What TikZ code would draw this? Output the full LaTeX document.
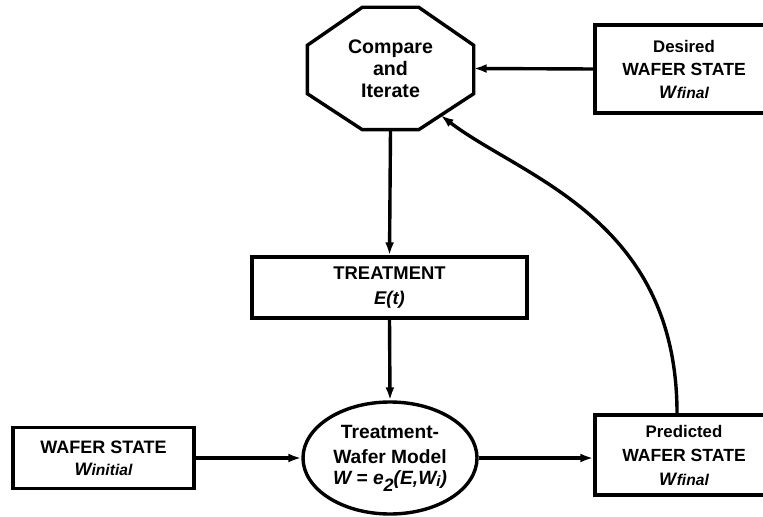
\documentclass[tikz,border=0pt]{standalone}
\usepackage{fontspec}
\setmainfont{Liberation Sans}
\usetikzlibrary{shapes.geometric,arrows.meta,calc}
\begin{document}
\begin{tikzpicture}[x=0.5pt,y=-0.5pt,
  line width=1.7pt,
  font=\bfseries,
  arr/.style={-{Latex[length=6.5pt,width=4.5pt]}},
  box/.style={draw,rectangle,inner sep=0pt,align=center}]
\clip (0,0) rectangle (763,517);

% compare-and-iterate octagon: an invisible frame plus its outline
\node[rectangle,minimum width=81.5pt,minimum height=59.5pt,inner sep=0pt,align=center,
      font=\bfseries\fontsize{9.8}{11}\selectfont] (cmp) at (390.5,68.5)
  {Compare\\and\\Iterate};
\coordinate (o1) at ($(cmp.north west)+(55,0)$);
\coordinate (o2) at ($(cmp.north east)+(-55,0)$);
\coordinate (o3) at ($(cmp.north east)+(0,38)$);
\coordinate (o4) at ($(cmp.south east)+(0,-36)$);
\coordinate (o5) at ($(cmp.south east)+(-55,0)$);
\coordinate (o6) at ($(cmp.south west)+(55,0)$);
\coordinate (o7) at ($(cmp.south west)+(0,-36)$);
\coordinate (o8) at ($(cmp.north west)+(0,38)$);
\draw[line join=miter] (o1)--(o2)--(o3)--(o4)--(o5)--(o6)--(o7)--(o8)--cycle;
\coordinate (cmpin) at ($(o5)!0.4!(o4)$);

% desired state
\node[box,minimum width=89pt,minimum height=44pt] (des) at (684,69)
  {{\fontsize{8.4}{10}\selectfont Desired}\\[-0.5pt]
   {\fontsize{8.8}{10}\selectfont WAFER STATE}\\[-0.5pt]
   {\fontsize{9}{10}\selectfont\itshape W\kern0.3pt{\fontsize{7.8}{9}\selectfont final}}};

% treatment
\node[box,minimum width=137.5pt,minimum height=30.5pt,
      font=\bfseries\fontsize{9.2}{12.5}\selectfont] (trt) at (389.5,287.5)
  {TREATMENT\\\itshape E(t)};

% treatment-wafer model
\node[draw,ellipse,minimum width=87pt,minimum height=56pt,inner sep=0pt,align=center,
      font=\bfseries\fontsize{9.6}{10.5}\selectfont] (mdl) at (390,458)
  {\raisebox{2pt}{Treatment-}\\Wafer Model\\
   \itshape W = e\raisebox{-3.5pt}{\fontsize{9}{9}\selectfont 2}(E,W\raisebox{-1pt}{\fontsize{7.5}{9}\selectfont i})};

% initial state
\node[box,minimum width=90.5pt,minimum height=30.5pt,
      font=\bfseries\fontsize{9}{11}\selectfont] (ini) at (103.5,458)
  {WAFER STATE\\\itshape W{\fontsize{7.8}{9}\selectfont initial}};

% predicted state
\node[box,minimum width=89pt,minimum height=40pt] (prd) at (684,455)
  {{\fontsize{8.4}{9.3}\selectfont Predicted}\\
   {\fontsize{8.8}{9.3}\selectfont WAFER STATE}\\
   {\fontsize{9}{9.3}\selectfont\itshape W\kern0.3pt{\fontsize{7.8}{9}\selectfont final}}};
\coordinate (prdout) at ($(prd.north)+(-7,0)$);

% connectors
\draw[arr] (des.west) -- (cmp.east);
\draw[arr] (cmp.south) -- (trt.north);
\draw[arr] (trt.south) -- (mdl.north);
\draw[arr] (ini.east) -- (mdl.west);
\draw[arr] (mdl.east) -- (mdl.east -| prd.west);
\draw[arr] (prdout) .. controls +(0,-195) and +(81,62) .. (cmpin);
\end{tikzpicture}
\end{document}
